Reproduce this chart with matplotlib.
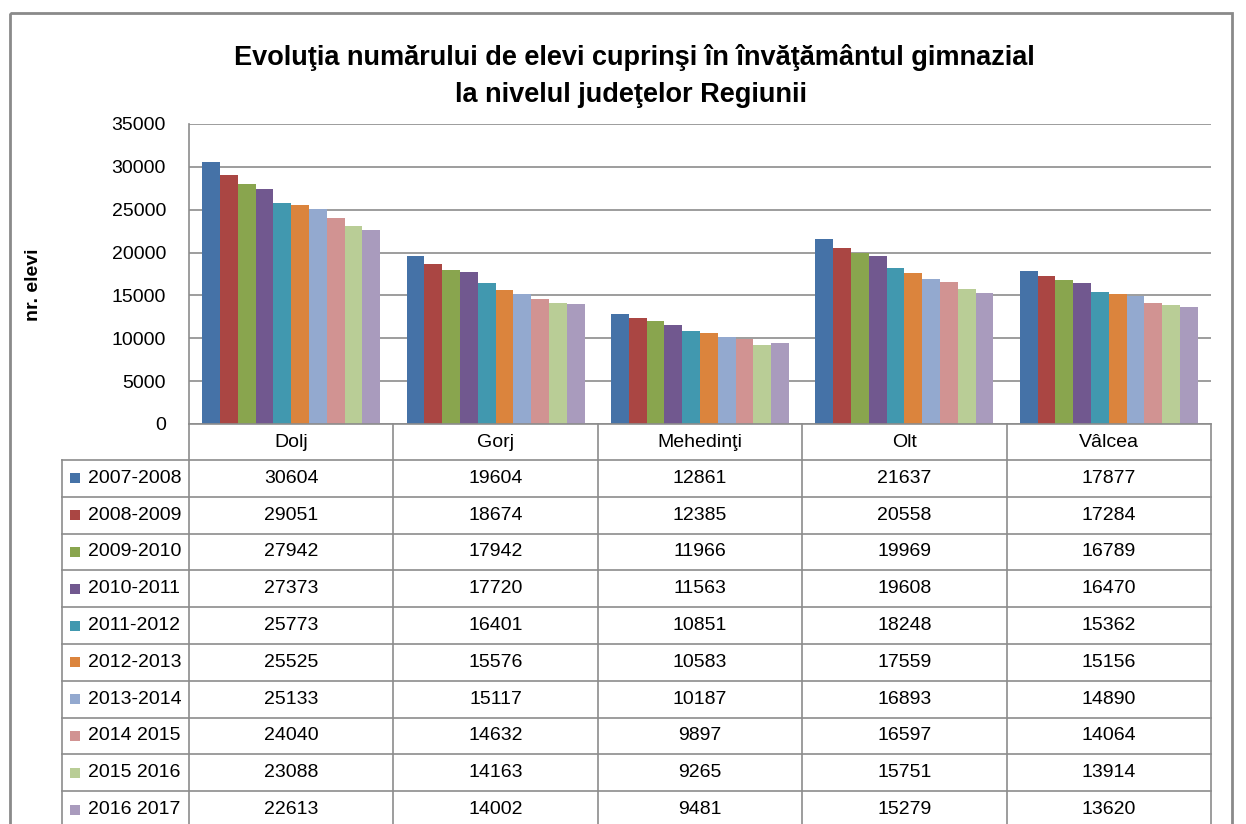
import numpy as np
import matplotlib.pyplot as plt
from matplotlib.patches import Rectangle

plt.rcParams['font.family'] = ['Liberation Sans', 'DejaVu Sans']

judete = ['Dolj', 'Gorj', 'Mehedinţi', 'Olt', 'Vâlcea']
ani = ['2007-2008', '2008-2009', '2009-2010', '2010-2011', '2011-2012',
       '2012-2013', '2013-2014', '2014 2015', '2015 2016', '2016 2017']

v_2007 = [30604, 19604, 12861, 21637, 17877]
v_2008 = [29051, 18674, 12385, 20558, 17284]
v_2009 = [27942, 17942, 11966, 19969, 16789]
v_2010 = [27373, 17720, 11563, 19608, 16470]
v_2011 = [25773, 16401, 10851, 18248, 15362]
v_2012 = [25525, 15576, 10583, 17559, 15156]
v_2013 = [25133, 15117, 10187, 16893, 14890]
v_2014 = [24040, 14632, 9897, 16597, 14064]
v_2015 = [23088, 14163, 9265, 15751, 13914]
v_2016 = [22613, 14002, 9481, 15279, 13620]
serii = [v_2007, v_2008, v_2009, v_2010, v_2011,
         v_2012, v_2013, v_2014, v_2015, v_2016]

culori = ['#4572A7', '#AA4643', '#89A54E', '#71588F', '#4198AF',
          '#DB843D', '#93A9CF', '#D19392', '#B9CD96', '#A99BBD']

W, H = 1246, 824
fig = plt.figure(figsize=(W / 100, H / 100), dpi=100)

# pixel coords of the plot area
x0, x1, ytop, ybot = 189, 1211, 124, 424
ax = fig.add_axes([x0 / W, 1 - ybot / H, (x1 - x0) / W, (ybot - ytop) / H])

x = np.arange(len(judete))
bw = 0.87 / len(serii)
for i, s in enumerate(serii):
    ax.bar(x - 0.435 + bw * (i + 0.5), s, bw, color=culori[i], zorder=3)

ax.set_xlim(-0.5, len(judete) - 0.5)
ax.set_ylim(0, 35000)
ax.set_yticks(np.arange(0, 35001, 5000))
ax.set_xticks([])
ax.grid(axis='y', color='#8c8c8c', lw=1.2, zorder=0)
for sp in ['top', 'right', 'bottom']:
    ax.spines[sp].set_visible(False)
ax.spines['left'].set_color('#8c8c8c')
ax.spines['left'].set_linewidth(1.2)
ax.tick_params(axis='y', labelsize=14, length=0, pad=16.5, colors='#8c8c8c',
               labelcolor='black')

# overlay in pixel coords for table, title and frame
ov = fig.add_axes([0, 0, 1, 1], zorder=5)
ov.set_xlim(0, W)
ov.set_ylim(H, 0)
ov.axis('off')
ov.patch.set_alpha(0)

gc = '#8c8c8c'
ov.add_patch(Rectangle((10, 13), 1222, 830, fill=False, ec='#8a8a8a', lw=2))

ov.text(634, 57, 'Evoluţia numărului de elevi cuprinşi în învăţământul gimnazial',
        ha='center', va='center', fontsize=19.5, fontweight='bold')
ov.text(631, 95, 'la nivelul judeţelor Regiunii',
        ha='center', va='center', fontsize=19.5, fontweight='bold')
ov.text(34, 285, 'nr. elevi', rotation=90, ha='center', va='center',
        fontsize=14, fontweight='bold')

# table
cw = (x1 - x0) / len(judete)
hdr_b = 460
rh = 36.8
tl = 62
for j, nume in enumerate(judete):
    ov.text(x0 + cw * (j + 0.5), 442, nume, ha='center', va='center', fontsize=14)
for k in range(len(judete) + 1):
    ov.plot([x0 + cw * k] * 2, [ybot, H + 5], color=gc, lw=1.2)
ov.plot([x0, x1], [ybot, ybot], color=gc, lw=1.2)
ov.plot([tl, tl], [hdr_b, H + 5], color=gc, lw=1.2)
for r in range(len(ani) + 1):
    ov.plot([tl, x1], [hdr_b + rh * r] * 2, color=gc, lw=1.2)
for r, an in enumerate(ani):
    yc = hdr_b + rh * (r + 0.5)
    ov.add_patch(Rectangle((70, yc - 5), 10, 10, color=culori[r], lw=0))
    ov.text(88, yc, an, ha='left', va='center', fontsize=14)
    for j in range(len(judete)):
        ov.text(x0 + cw * (j + 0.5), yc, str(serii[r][j]),
                ha='center', va='center', fontsize=14)

fig.savefig('out.png', dpi=100)
